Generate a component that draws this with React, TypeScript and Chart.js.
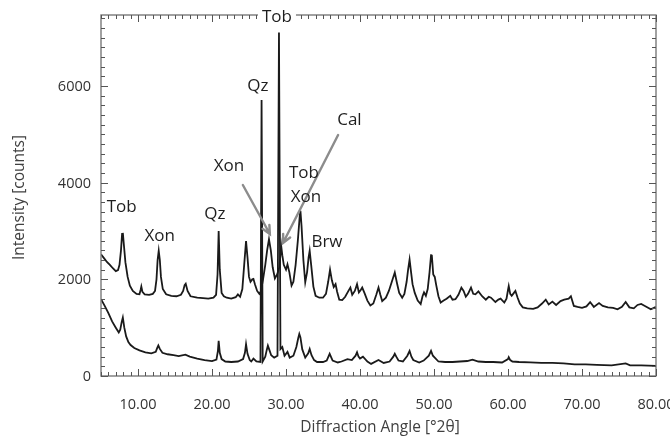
import React, { useEffect, useRef } from "react";
import { Chart, registerables } from "chart.js";

Chart.register(...registerables);

// ---- Upper pattern (offset sample) ----
const upperAngle = [
  5.0, 5.4, 5.8, 6.2, 6.6, 7.0, 7.3, 7.5, 7.7, 7.85, 7.95, 8.1, 8.3, 8.6, 8.9, 9.3, 9.8, 10.2, 10.35, 10.45,
  10.6, 10.9, 11.5, 12.0, 12.3, 12.5, 12.65, 12.8, 12.95, 13.1, 13.35, 13.8, 14.5, 15.2, 15.8, 16.1, 16.3, 16.45,
  16.7, 17.1, 18.0, 18.8, 19.5, 20.2, 20.55, 20.75, 20.9, 21.05, 21.3, 21.6, 22.0, 22.6, 23.2, 23.5, 23.8, 24.1,
  24.35, 24.6, 24.8, 25.0, 25.2, 25.45, 25.6, 25.8, 26.1, 26.4, 26.6, 26.9, 27.2, 27.45, 27.7, 27.95, 28.2, 28.5,
  28.8, 29.1, 29.35, 29.5, 29.7, 30.0, 30.2, 30.45, 30.75, 31.0, 31.3, 31.6, 31.85, 31.95, 32.1, 32.35, 32.6, 32.85,
  33.05, 33.2, 33.4, 33.7, 34.0, 34.5, 35.0, 35.4, 35.7, 35.95, 36.2, 36.45, 36.7, 36.9, 37.2, 37.6, 38.0, 38.4,
  38.7, 38.95, 39.3, 39.6, 39.85, 40.1, 40.3, 40.6, 41.0, 41.4, 41.8, 42.2, 42.5, 42.75, 43.0, 43.5, 43.9, 44.3,
  44.7, 45.0, 45.3, 45.7, 46.0, 46.3, 46.5, 46.7, 46.9, 47.1, 47.4, 47.8, 48.2, 48.45, 48.65, 48.9, 49.15, 49.4,
  49.6, 49.7, 49.9, 50.1, 50.3, 50.6, 50.9, 51.3, 51.7, 52.2, 52.5, 52.9, 53.3, 53.7, 54.0, 54.3, 54.6, 55.0,
  55.3, 55.6, 56.0, 56.5, 57.0, 57.4, 57.7, 58.3, 58.7, 59.0, 59.5, 59.8, 60.0, 60.1, 60.3, 60.5, 60.8, 61.0,
  61.3, 61.6, 62.0, 62.6, 63.4, 64.0, 64.6, 65.1, 65.5, 66.0, 66.5, 67.1, 67.6, 68.2, 68.5, 68.9, 69.4, 70.0,
  70.6, 71.1, 71.6, 72.3, 72.8, 73.5, 74.2, 74.8, 75.4, 75.9, 76.4, 77.0, 77.5, 78.0, 78.5, 79.3, 80.0,
];
const upperCounts = [
  2520, 2440, 2360, 2300, 2230, 2170, 2190, 2300, 2600, 2940, 2960, 2700, 2350, 2050, 1870, 1760, 1700, 1690, 1780, 1850,
  1740, 1690, 1680, 1700, 1760, 2000, 2400, 2590, 2400, 2050, 1800, 1690, 1660, 1650, 1680, 1760, 1880, 1910,
  1760, 1650, 1620, 1610, 1600, 1620, 1680, 2100, 3000, 2200, 1720, 1650, 1620, 1600, 1630, 1690, 1640, 1800,
  2300, 2790, 2450, 2050, 1950, 2000, 2010, 1900, 1760, 1700, 1750, 2000, 2300, 2600, 2830, 2600, 2250, 2020,
  2100, 2250, 2690, 2500, 2300, 2200, 2310, 2150, 1870, 1950, 2300, 2800, 3300, 3420, 3100, 2400, 1940, 2150,
  2450, 2590, 2300, 1850, 1660, 1620, 1620, 1700, 1950, 2200, 1980, 1840, 1900, 1750, 1580, 1570, 1640, 1750,
  1830, 1680, 1760, 1900, 1730, 1780, 1830, 1720, 1560, 1460, 1500, 1680, 1830, 1680, 1550, 1620, 1760, 1950,
  2140, 1920, 1720, 1620, 1700, 1950, 2200, 2410, 2150, 1900, 1720, 1560, 1490, 1650, 1730, 1660, 1800, 2150,
  2500, 2510, 2100, 2050, 1880, 1650, 1520, 1560, 1600, 1660, 1580, 1590, 1680, 1830, 1760, 1640, 1700, 1830,
  1700, 1690, 1750, 1650, 1580, 1640, 1620, 1530, 1580, 1600, 1520, 1600, 1780, 1860, 1700, 1660, 1720, 1760,
  1620, 1500, 1420, 1400, 1390, 1420, 1500, 1580, 1480, 1540, 1470, 1550, 1580, 1600, 1650, 1450, 1430, 1410,
  1440, 1530, 1430, 1510, 1450, 1420, 1410, 1380, 1430, 1530, 1420, 1400, 1470, 1490, 1450, 1380, 1430,
];

// ---- Lower pattern ----
const lowerAngle = [
  5.0, 5.5, 6.0, 6.5, 7.0, 7.4, 7.6, 7.8, 7.95, 8.15, 8.4, 8.7, 9.0, 9.5, 10.2, 11.0, 11.8, 12.4, 12.6, 12.75,
  12.95, 13.3, 14.0, 14.8, 15.5, 16.4, 17.0, 18.0, 19.0, 20.0, 20.6, 20.8, 20.9, 21.05, 21.3, 21.8, 22.6, 23.5,
  24.2, 24.45, 24.6, 24.8, 25.1, 25.3, 25.6, 26.0, 26.55, 26.7, 26.85, 27.2, 27.4, 27.55, 27.75, 28.0, 28.4,
  28.85, 29.05, 29.25, 29.5, 29.8, 30.2, 30.5, 31.0, 31.4, 31.65, 31.8, 31.95, 32.2, 32.6, 33.0, 33.2, 33.45,
  33.8, 34.2, 35.0, 35.5, 35.9, 36.3, 37.0, 37.5, 38.3, 38.9, 39.4, 39.6, 39.8, 40.0, 40.4, 41.0, 41.5, 42.5,
  43.2, 44.0, 44.5, 44.7, 44.9, 45.2, 45.8, 46.4, 46.7, 46.95, 47.2, 48.0, 48.6, 49.3, 49.6, 49.85, 50.1, 50.6,
  51.5, 52.5, 53.5, 54.5, 55.2, 56.0, 57.0, 58.0, 59.2, 60.0, 60.1, 60.3, 60.6, 61.5, 63.0, 64.5, 66.0, 67.5,
  69.0, 70.5, 72.0, 74.0, 75.9, 76.5, 78.0, 80.0,
];
const lowerCounts = [
  1590, 1450, 1300, 1130, 1000, 900, 960, 1120, 1210, 1000, 820, 700, 640, 580, 530, 490, 470, 500, 580, 630,
  560, 480, 450, 430, 410, 440, 400, 360, 330, 310, 340, 520, 730, 480, 350, 300, 290, 300,
  350, 480, 660, 460, 330, 300, 360, 300, 290, 5710, 300, 400, 540, 630, 540, 430, 380,
  420, 7110, 560, 600, 420, 500, 380, 420, 600, 780, 870, 800, 550, 380, 470, 560, 430,
  330, 290, 290, 320, 460, 320, 280, 300, 350, 330, 420, 490, 400, 360, 400, 300, 250, 330,
  270, 300, 400, 460, 400, 320, 300, 420, 520, 400, 330, 280, 320, 420, 520, 420, 380, 300,
  290, 290, 300, 310, 340, 300, 290, 290, 280, 350, 390, 330, 300, 290, 280, 270, 270, 260,
  240, 240, 230, 220, 260, 220, 220, 210,
];

// ---- Axes ----
const X_MIN = 5;
const X_MAX = 80;
const Y_MIN = 0;
const Y_MAX = 7470;
const xTickValues = [10, 20, 30, 40, 50, 60, 70, 80];
const xTickLabels = ["10.00", "20.00", "30.00", "40.00", "50.00", "60.00", "70.00", "80.00"];
const yTickValues = [0, 2000, 4000, 6000];
const yTickLabels = ["0", "2000", "4000", "6000"];
const xMinorStep = 1;
const yMinorStep = 200;
const xTitle = "Diffraction Angle [°2θ]";
const yTitle = "Intensity [counts]";

// ---- Phase annotations ----
const phaseLabels = ["Tob", "Xon", "Qz", "Qz", "Xon", "Tob", "Cal", "Tob", "Xon", "Brw"];
const phaseAngle = [7.8, 12.94, 20.39, 26.21, 22.28, 28.78, 38.57, 32.43, 32.7, 35.54];
const phaseCounts = [3497, 2886, 3352, 6000, 4345, 7428, 5297, 4200, 3703, 2773];
const phaseOnFrame = [false, false, false, false, false, true, false, false, false, false];

const arrowFromAngle = [24.17, 37.04];
const arrowFromCounts = [3952, 4987];
const arrowToAngle = [27.82, 29.59];
const arrowToCounts = [2938, 2752];

const FONT = "'Open Sans', 'Noto Sans', sans-serif";

const framePlugin = {
  id: "xrdFrame",
  afterDatasetsDraw(chart: any) {
    const { ctx, chartArea: a, scales } = chart;
    const x = scales.x;
    const y = scales.y;
    ctx.save();

    // frame
    ctx.strokeStyle = "#7a7a7a";
    ctx.lineWidth = 1.4;
    ctx.strokeRect(a.left, a.top, a.right - a.left, a.bottom - a.top);

    // ticks (inward, all four sides)
    ctx.strokeStyle = "#555555";
    ctx.lineWidth = 1;
    ctx.beginPath();
    for (let v = X_MIN; v <= X_MAX + 1e-6; v += xMinorStep) {
      const px = Math.round(x.getPixelForValue(v)) + 0.5;
      const len = v % 10 === 0 ? 7 : 4;
      ctx.moveTo(px, a.bottom);
      ctx.lineTo(px, a.bottom - len);
      ctx.moveTo(px, a.top);
      ctx.lineTo(px, a.top + len);
    }
    for (let v = Y_MIN; v <= Y_MAX; v += yMinorStep) {
      const py = Math.round(y.getPixelForValue(v)) + 0.5;
      const len = v % 2000 === 0 ? 7 : 4;
      ctx.moveTo(a.left, py);
      ctx.lineTo(a.left + len, py);
      ctx.moveTo(a.right, py);
      ctx.lineTo(a.right - len, py);
    }
    ctx.stroke();

    // tick labels
    ctx.fillStyle = "#333333";
    ctx.font = `14.5px ${FONT}`;
    ctx.textAlign = "center";
    ctx.textBaseline = "alphabetic";
    xTickValues.forEach((v, i) => {
      ctx.fillText(xTickLabels[i], x.getPixelForValue(v), a.bottom + 33);
    });
    ctx.textAlign = "right";
    ctx.textBaseline = "middle";
    yTickValues.forEach((v, i) => {
      ctx.fillText(yTickLabels[i], a.left - 10, y.getPixelForValue(v) + 1);
    });

    // axis titles
    ctx.font = `15.5px ${FONT}`;
    ctx.fillStyle = "#404040";
    ctx.textAlign = "center";
    ctx.textBaseline = "middle";
    ctx.fillText(xTitle, 380, 428);
    ctx.save();
    ctx.translate(20, 197.5);
    ctx.rotate(-Math.PI / 2);
    ctx.fillText(yTitle, 0, 0);
    ctx.restore();

    // arrows
    ctx.strokeStyle = "#8c8c8c";
    ctx.lineWidth = 2.4;
    ctx.lineCap = "round";
    arrowFromAngle.forEach((_, i) => {
      const x1 = x.getPixelForValue(arrowFromAngle[i]);
      const y1 = y.getPixelForValue(arrowFromCounts[i]);
      const x2 = x.getPixelForValue(arrowToAngle[i]);
      const y2 = y.getPixelForValue(arrowToCounts[i]);
      const ang = Math.atan2(y2 - y1, x2 - x1);
      const hl = 9;
      ctx.beginPath();
      ctx.moveTo(x1, y1);
      ctx.lineTo(x2, y2);
      ctx.moveTo(x2 - hl * Math.cos(ang - 0.45), y2 - hl * Math.sin(ang - 0.45));
      ctx.lineTo(x2, y2);
      ctx.lineTo(x2 - hl * Math.cos(ang + 0.45), y2 - hl * Math.sin(ang + 0.45));
      ctx.stroke();
    });

    // phase labels
    ctx.font = `17px ${FONT}`;
    ctx.textAlign = "center";
    ctx.textBaseline = "middle";
    phaseLabels.forEach((t, i) => {
      const px = x.getPixelForValue(phaseAngle[i]);
      const py = y.getPixelForValue(phaseCounts[i]);
      if (phaseOnFrame[i]) {
        const w = ctx.measureText(t).width + 8;
        ctx.fillStyle = "#ffffff";
        ctx.fillRect(px - w / 2, py - 9, w, 14);
      }
      ctx.fillStyle = "#1e1e1e";
      ctx.fillText(t, px, py);
    });

    ctx.restore();
  },
};

export default function App() {
  const canvasRef = useRef<HTMLCanvasElement | null>(null);

  useEffect(() => {
    if (!canvasRef.current) return;
    const chart = new Chart(canvasRef.current, {
      type: "line",
      data: {
        datasets: [
          {
            data: upperAngle.map((a, i) => ({ x: a, y: upperCounts[i] })),
            borderColor: "#1a1a1a",
            borderWidth: 1.8,
            pointRadius: 0,
            tension: 0,
            fill: false,
          },
          {
            data: lowerAngle.map((a, i) => ({ x: a, y: lowerCounts[i] })),
            borderColor: "#1a1a1a",
            borderWidth: 1.8,
            pointRadius: 0,
            tension: 0,
            fill: false,
          },
        ],
      },
      options: {
        responsive: false,
        animation: false,
        events: [],
        layout: { padding: { left: 101, right: 14, top: 15, bottom: 62 } },
        plugins: { legend: { display: false }, tooltip: { enabled: false } },
        scales: {
          x: { type: "linear", min: X_MIN, max: X_MAX, display: false },
          y: { type: "linear", min: Y_MIN, max: Y_MAX, display: false },
        },
      },
      plugins: [framePlugin],
    });
    return () => chart.destroy();
  }, []);

  return (
    <div style={{ position: "fixed", left: 0, top: 0, width: 670, height: 438, background: "#fff" }}>
      <canvas ref={canvasRef} width={670} height={438} style={{ display: "block" }} />
    </div>
  );
}
